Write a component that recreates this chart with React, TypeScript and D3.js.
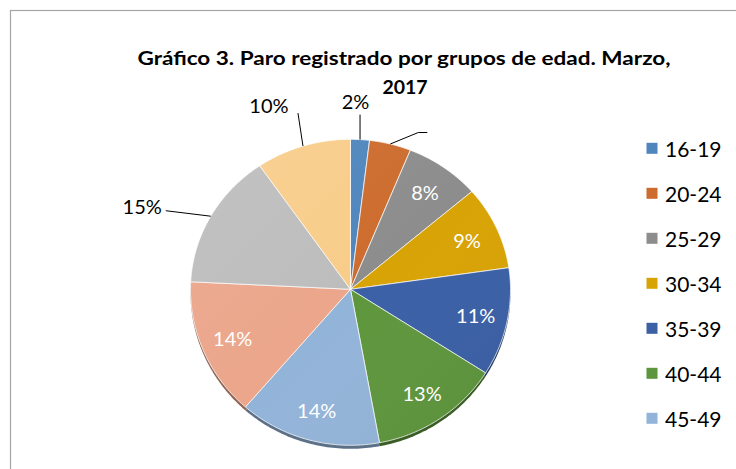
import React from "react";
import * as d3 from "d3";

const categories = ["16-19", "20-24", "25-29", "30-34", "35-39", "40-44", "45-49", "50-54", "55-59", "60 y más"];
const values = [1.9, 4.2, 7.6, 9.0, 11.3, 13.1, 14.3, 14.4, 14.6, 9.6];
const labels = ["2%", "4%", "8%", "9%", "11%", "13%", "14%", "14%", "15%", "10%"];
const colors = ["#4F86BD", "#CD6C2E", "#8D8D8D", "#D8A305", "#3B60A6", "#5E963D", "#93B4D9", "#EBA68B", "#BDBDBD", "#F8CD8A"];
const legendCount = 7;
const titleLine1 = "Gráfico 3. Paro registrado por grupos de edad. Marzo,";
const titleLine2 = "2017";

// layout
const W = 736, H = 469;
const CX = 350.5, CY = 289.3, R = 160, KT = 150 / 160, KB = 156 / 160;
const FONT = "Lato, 'Open Sans', sans-serif";

// outside-label layout (relative to pie-edge point at the slice's mid angle)
const outside: Record<number, { pts: [number, number][]; lab: [number, number]; anchor: string; color: string }> = {
  0: { pts: [[0, -25]], lab: [-4.5, -39], anchor: "middle", color: "#000" },
  1: { pts: [[28, -11.5], [37, -11.5]], lab: [41, -11], anchor: "start", color: "#fff" },
  9: { pts: [[-5, -33]], lab: [-34, -41], anchor: "middle", color: "#000" },
  8: { pts: [[-45, -5.5]], lab: [-49, -10.5], anchor: "end", color: "#000" },
};

function proj(theta: number, r: number): [number, number] {
  const c = Math.cos(theta);
  return [CX + r * Math.sin(theta), CY - r * c * (c > 0 ? KT : KB)];
}

export default function App() {
  const pie = d3.pie<number>().sort(null).value((d) => d)(values);
  const line = d3.line();
  const slicePath = (a: d3.PieArcDatum<number>) => {
    const n = Math.max(2, Math.ceil(((a.endAngle - a.startAngle) * 180) / Math.PI));
    const pts: [number, number][] = [[CX, CY]];
    d3.range(n + 1).forEach((i) => {
      const t = a.startAngle + ((a.endAngle - a.startAngle) * i) / n;
      pts.push(proj(t, R));
    });
    return line(pts) + "Z";
  };

  return (
    <svg width={W} height={H} style={{ position: "absolute", left: 0, top: 0, background: "#fff" }}>
      <defs>
        <linearGradient id="shade" x1="0" y1="0" x2="1" y2="1">
          <stop offset="0" stopColor="#fff" stopOpacity={0.08} />
          <stop offset="0.5" stopColor="#fff" stopOpacity={0} />
          <stop offset="1" stopColor="#000" stopOpacity={0.06} />
        </linearGradient>
      </defs>
      <rect x={10.5} y={10.5} width={900} height={900} fill="#fff" stroke="#a6a6a6" strokeWidth={1.2} />

      <text x={404} y={65} textAnchor="middle" fontFamily={FONT} fontWeight="bold" fontSize={19.5} fill="#000" textLength={533} lengthAdjust="spacingAndGlyphs">
        {titleLine1}
      </text>
      <text x={405} y={93.5} textAnchor="middle" fontFamily={FONT} fontWeight="bold" fontSize={19.5} fill="#000">
        {titleLine2}
      </text>

      {/* 3D side */}
      <g transform="translate(0,3.5)">
        {pie.map((a, i) => (
          <path key={"s" + i} d={slicePath(a)} fill={d3.color(colors[i])!.darker(1.3).toString()} />
        ))}
      </g>
      {pie.map((a, i) => (
        <path key={"p" + i} d={slicePath(a)} fill={colors[i]} stroke="#ffffff" strokeOpacity={0.75} strokeWidth={1} />
      ))}
      <path
        d={slicePath({ startAngle: 0, endAngle: 2 * Math.PI } as any)}
        fill="url(#shade)"
        pointerEvents="none"
      />

      {pie.map((a, i) => {
        const mid = (a.startAngle + a.endAngle) / 2;
        const o = outside[i];
        if (o) {
          const [ex, ey] = proj(mid, R);
          const pts: [number, number][] = [[ex, ey], ...o.pts.map(([dx, dy]) => [ex + dx, ey + dy] as [number, number])];
          return (
            <g key={"l" + i}>
              <path d={line(pts)!} fill="none" stroke="#000" strokeWidth={1} />
              <text x={ex + o.lab[0]} y={ey + o.lab[1]} textAnchor={o.anchor} dominantBaseline="central" fontFamily={FONT} fontSize={20} fill={o.color}>
                {labels[i]}
              </text>
            </g>
          );
        }
        const [lx, ly] = proj(mid, R * 0.8);
        return (
          <text key={"l" + i} x={lx} y={ly} textAnchor="middle" dominantBaseline="central" fontFamily={FONT} fontSize={20} fill="#fff">
            {labels[i]}
          </text>
        );
      })}

      {categories.slice(0, legendCount).map((c, i) => {
        const y = 148.3 + i * 45;
        return (
          <g key={"g" + i}>
            <rect x={646.5} y={y - 5.5} width={11} height={11} fill={colors[i]} />
            <text x={665} y={y} dominantBaseline="central" fontFamily={FONT} fontSize={21} fill="#000">
              {c}
            </text>
          </g>
        );
      })}
    </svg>
  );
}
